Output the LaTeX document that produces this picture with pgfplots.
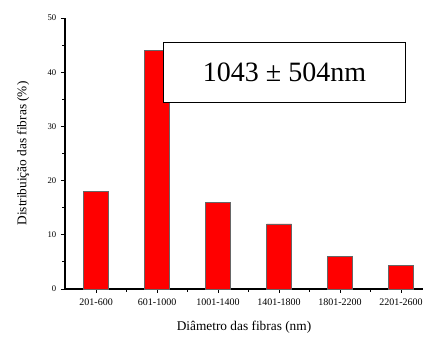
\documentclass[border=0pt]{standalone}
\usepackage{fontspec}
\setmainfont{Liberation Serif}
\usepackage{pgfplots}
\pgfplotsset{compat=1.18}
\begin{document}
\begin{tikzpicture}[x=1pt,y=1pt]
\begin{axis}[
  name=ax,
  scale only axis,
  width=268.5pt, height=203.25pt,
  xmin=-0.51, xmax=5.36,
  ymin=0, ymax=50,
  axis x line=bottom, axis y line=left,
  axis line style={-, line width=0.8pt},
  xtick={0,1,2,3,4,5},
  xticklabels={201-600,601-1000,1001-1400,1401-1800,1801-2200,2201-2600},
  minor xtick={0.5,1.5,2.5,3.5,4.5},
  ytick={0,10,20,30,40,50},
  minor ytick={5,15,25,35,45},
  tick align=outside,
  major tick length=3pt, minor tick length=2pt,
  tick style={black, line width=0.6pt},
  /pgf/number format/assume math mode=true,
  xticklabel style={font=\fontsize{7.5}{8}\selectfont, yshift=-1pt},
  yticklabel style={font=\fontsize{6.5}{7}\selectfont},
  xlabel={Diâmetro das fibras (nm)},
  ylabel={Distribuição das fibras (\%)},
  xlabel style={font=\fontsize{10}{12}\selectfont, yshift=-5pt},
  ylabel style={font=\fontsize{10}{12}\selectfont, yshift=7pt},
  clip=false,
]
\addplot[ybar, bar width=0.41, fill={rgb,255:red,255;green,0;blue,0}, draw=black!60, line width=0.3pt]
  coordinates {(0,18) (1,44) (2,16) (3,12) (4,6) (5,4.3)};
\node[draw=black, line width=0.8pt, fill=white, minimum width=182pt, minimum height=45pt,
      font=\fontsize{21}{24}\selectfont, inner sep=0pt] at (axis cs:3.09,40.0) {1043 ± 504nm};
\end{axis}
\pgfresetboundingbox
\path[use as bounding box] ([xshift=-48.75pt, yshift=-36.75pt]ax.south west) rectangle ([yshift=13.5pt]ax.north east);
\end{tikzpicture}
\end{document}
